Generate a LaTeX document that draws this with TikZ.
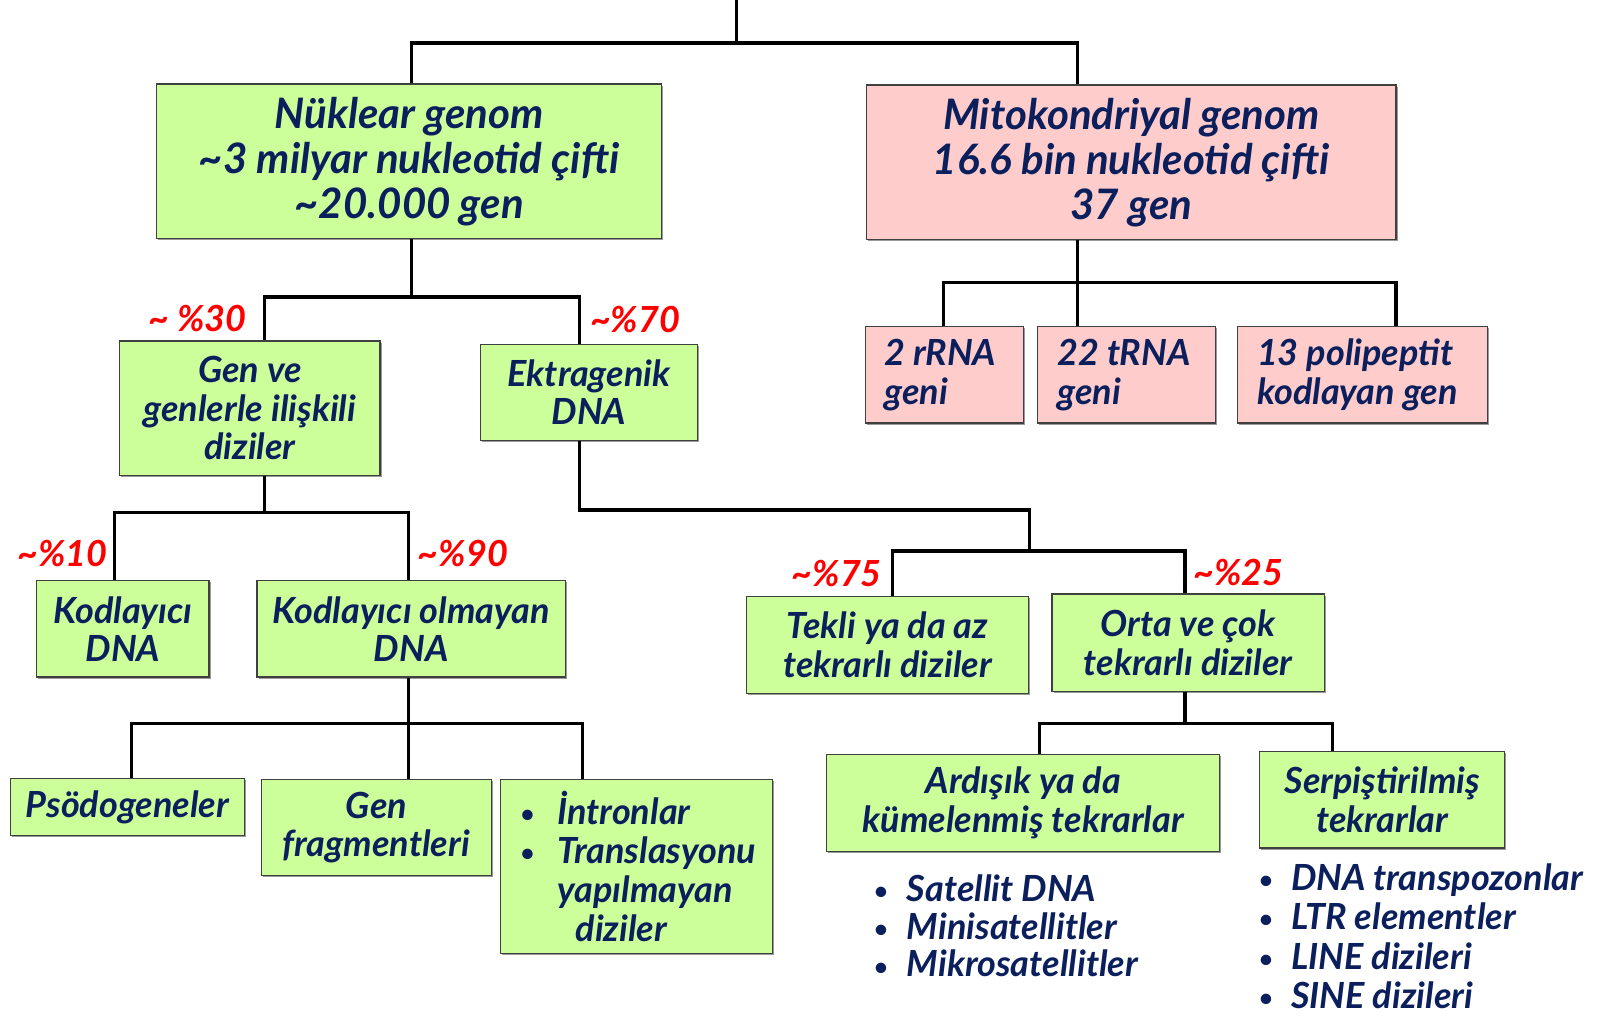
\documentclass[tikz,border=0pt]{standalone}
\usepackage{fontspec}
\setmainfont{Lato}
\usetikzlibrary{fit,shadows}
\definecolor{gfill}{HTML}{CCFF99}
\definecolor{pfill}{HTML}{FFCCCC}
\definecolor{navy}{HTML}{0A1F5C}
\definecolor{redlbl}{HTML}{FF0000}
\newcommand\blt[1]{\makebox[#1][l]{\fontsize{12}{12}\selectfont\raisebox{0.08em}{\textbullet}}}
\tikzset{
 box/.style={draw=black!75, line width=0.6pt, inner sep=0pt,
   drop shadow={shadow xshift=0.8pt, shadow yshift=-0.8pt, fill=black!40, opacity=1}},
 gbox/.style={box, fill=gfill},
 pbox/.style={box, fill=pfill},
 tx/.style={text=navy, inner sep=0pt, align=center},
 txl/.style={text=navy, inner sep=0pt, align=left},
 bigtxt/.style={font=\fontsize{21}{22.5}\selectfont\bfseries\itshape},
 smtxt/.style={font=\fontsize{18}{19.2}\selectfont\bfseries\itshape},
 conn/.style={line width=1.6pt, black, line join=miter},
 pct/.style={text=redlbl, font=\fontsize{18}{18}\selectfont\bfseries\itshape, inner sep=0pt},
}
\begin{document}
\begin{tikzpicture}[x=0.5121pt,y=-0.5121pt]
\useasboundingbox (0,0) rectangle (1568,994);
% boxes
\node[gbox,fit={(153,82)(646,233)}] (nuk) {};
\node[tx,bigtxt] (nukt) at (nuk.center) {Nüklear genom\\\textasciitilde3 milyar nukleotid çifti\\\textasciitilde20.000 gen};
\node[pbox,fit={(846,83)(1363,234)}] (mito) {};
\node[tx,bigtxt] (mitot) at (mito.center) {Mitokondriyal genom\\16.6 bin nukleotid çifti\\37 gen};
\node[pbox,fit={(845,319)(999,413)}] (rrna) {};
\node[txl,smtxt,anchor=west] (rrnat) at ([xshift=9.5pt]rrna.west) {2 rRNA\\geni};
\node[pbox,fit={(1013,319)(1187,413)}] (trna) {};
\node[txl,smtxt,anchor=west] (trnat) at ([xshift=10pt]trna.west) {22 tRNA\\geni};
\node[pbox,fit={(1208,319)(1452,413)}] (poly) {};
\node[txl,smtxt,anchor=west] (polyt) at ([xshift=10pt]poly.west) {13 polipeptit\\kodlayan gen};
\node[gbox,fit={(117,333)(371,464)}] (genve) {};
\node[tx,smtxt] (genvet) at (genve.center) {Gen ve\\genlerle ilişkili\\diziler};
\node[gbox,fit={(469,336)(681,430)}] (ekt) {};
\node[tx,smtxt] (ektt) at (ekt.center) {Ektragenik\\DNA};
\node[gbox,fit={(36,567)(204,661)}] (kod) {};
\node[tx,smtxt] (kodt) at (kod.center) {Kodlayıcı\\DNA};
\node[gbox,fit={(251,567)(552,661)}] (kodo) {};
\node[tx,smtxt] (kodot) at (kodo.center) {Kodlayıcı olmayan\\DNA};
\node[gbox,fit={(10,760)(239,816)}] (pso) {};
\node[tx,smtxt] (psot) at (pso.center) {Psödogeneler};
\node[gbox,fit={(255,761)(480,855)}] (genf) {};
\node[tx,smtxt] (genft) at (genf.center) {Gen\\fragmentleri};
\node[gbox,fit={(489,761)(754,931)}] (intr) {};
\node[txl,font=\fontsize{18}{19.5}\selectfont\bfseries\itshape,anchor=west] (intrt) at ([xshift=10pt]intr.west)
  {\blt{18.4pt}İntronlar\\\blt{18.4pt}Translasyonu\\\hspace*{18.4pt}yapılmayan\\\hspace*{27.5pt}diziler};
\node[gbox,fit={(729,582)(1004,677)}] (tekli) {};
\node[tx,smtxt] (teklit) at (tekli.center) {Tekli ya da az\\tekrarlı diziler};
\node[gbox,fit={(1027,580)(1293,675)}] (orta) {};
\node[tx,smtxt] (ortat) at (orta.center) {Orta ve çok\\tekrarlı diziler};
\node[gbox,fit={(807,737)(1191,831)}] (ard) {};
\node[tx,smtxt] (ardt) at (ard.center) {Ardışık ya da\\kümelenmiş tekrarlar};
\node[gbox,fit={(1230,734)(1469,828)}] (serp) {};
\node[tx,smtxt] (serpt) at (serp.center) {Serpiştirilmiş\\tekrarlar};
% lists
\node[txl,font=\fontsize{18}{18.9}\selectfont\bfseries\itshape,anchor=west] (satl) at (853,904)
  {\blt{16.4pt}Satellit DNA\\\blt{16.4pt}Minisatellitler\\\blt{16.4pt}Mikrosatellitler};
\node[txl,font=\fontsize{18}{19.6}\selectfont\bfseries\itshape,anchor=west] (trp) at (1229,914)
  {\blt{15.9pt}DNA transpozonlar\\\blt{15.9pt}LTR elementler\\\blt{15.9pt}LINE dizileri\\\blt{15.9pt}SINE dizileri};
% percentages
\node[pct] (p30) at (193,311) {\textasciitilde\ \%30};
\node[pct] (p70) at (620,312) {\textasciitilde\%70};
\node[pct] (p10) at (61,540) {\textasciitilde\%10};
\node[pct] (p90) at (452,540) {\textasciitilde\%90};
\node[pct] (p75) at (817,560) {\textasciitilde\%75};
\node[pct] (p25) at (1209,559) {\textasciitilde\%25};
% junctions
\coordinate (top) at (719,0);
\coordinate (b0) at (719,42); \coordinate (b0l) at (402,42); \coordinate (b0r) at (1052,42);
\coordinate (b1) at (1052,276); \coordinate (b1l) at (921,276); \coordinate (b1r) at (1363,276);
\coordinate (b2) at (402,290); \coordinate (b2l) at (258,290); \coordinate (b2r) at (566,290);
\coordinate (b3) at (258,500); \coordinate (b3l) at (112,500); \coordinate (b3r) at (399,500);
\coordinate (b4) at (399,706); \coordinate (b4l) at (128,706); \coordinate (b4r) at (569,706);
\coordinate (b5a) at (566,498); \coordinate (b5b) at (1005,498);
\coordinate (b5) at (1005,538); \coordinate (b5l) at (871,538); \coordinate (b5r) at (1157,538);
\coordinate (b6) at (1157,706); \coordinate (b6l) at (1015,706); \coordinate (b6r) at (1301,706);
% connectors
\draw[conn] (top) -- (b0);
\draw[conn] (nuk.north -| b0l) -- (b0l) -- (b0r) -- (mito.north -| b0r);
\draw[conn] (mito.south -| b1) -- (b1);
\draw[conn] (rrna.north -| b1l) -- (b1l) -- (b1r) -- (poly.north -| b1r);
\draw[conn] (b1) -- (trna.north -| b1);
\draw[conn] (nuk.south -| b2) -- (b2);
\draw[conn] (genve.north -| b2l) -- (b2l) -- (b2r) -- (ekt.north -| b2r);
\draw[conn] (genve.south -| b3) -- (b3);
\draw[conn] (kod.north -| b3l) -- (b3l) -- (b3r) -- (kodo.north -| b3r);
\draw[conn] (kodo.south -| b4) -- (b4);
\draw[conn] (pso.north -| b4l) -- (b4l) -- (b4r) -- (intr.north -| b4r);
\draw[conn] (b4) -- (genf.north -| b4);
\draw[conn] (ekt.south -| b5a) -- (b5a) -- (b5b) -- (b5);
\draw[conn] (tekli.north -| b5l) -- (b5l) -- (b5r) -- (orta.north -| b5r);
\draw[conn] (orta.south -| b6) -- (b6);
\draw[conn] (ard.north -| b6l) -- (b6l) -- (b6r) -- (serp.north -| b6r);
\end{tikzpicture}
\end{document}
